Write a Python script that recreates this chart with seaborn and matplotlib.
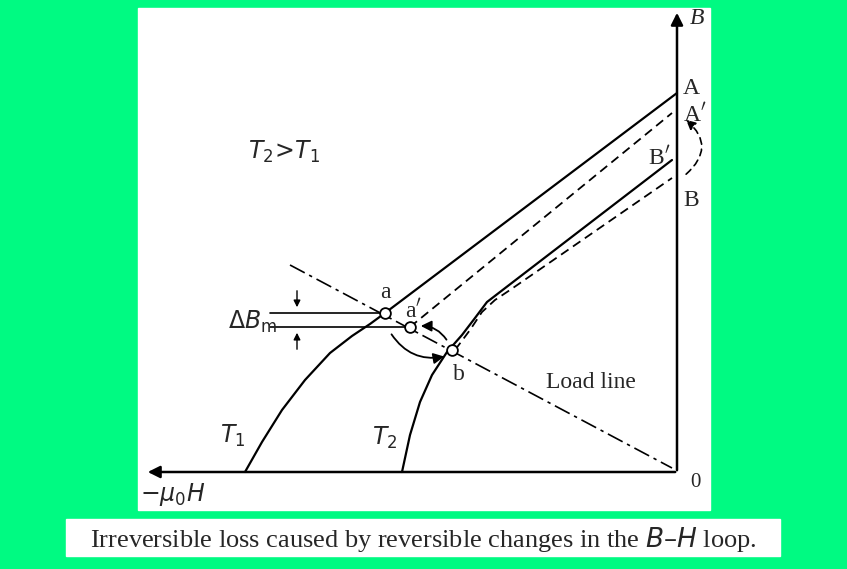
import numpy as np
import pandas as pd
import matplotlib
matplotlib.use("Agg")
import matplotlib.pyplot as plt
from matplotlib.patches import Rectangle, FancyArrowPatch
import seaborn as sns

sns.set_style("white")
plt.rcParams['font.family'] = ['Liberation Serif', 'DejaVu Serif']

# schematic curves, in picture coordinates (x right, y down)
t1_x = [245, 262, 282, 305, 330, 352, 370, 385, 677]
t1_y = [472, 442, 410, 380, 353, 336, 324, 313, 93]
t2_x = [402, 410, 420, 432, 447, 462, 475, 487, 500, 672]
t2_y = [472, 435, 402, 375, 352, 335, 318, 302, 292, 160]
da_x = [410, 672]
da_y = [327, 113]
db_x = [455, 470, 482, 495, 510, 672]
db_y = [350, 330, 312, 300, 290, 178]
load_x = [290, 672]
load_y = [265, 468]
pts_x = [385, 410, 452]
pts_y = [313, 327, 350]

green = '#00fa82'
fig = plt.figure(figsize=(8.47, 5.69), dpi=100, facecolor=green)
ax = fig.add_axes([0, 0, 1, 1])
ax.set_xlim(0, 847)
ax.set_ylim(569, 0)
ax.axis('off')
ax.add_patch(Rectangle((138, 8), 572, 502, color='white', zorder=0))
ax.add_patch(Rectangle((66, 519), 714, 37, color='white', zorder=0))

k = dict(color='black', lw=1.6, sort=False, legend=False, ax=ax)
sns.lineplot(x=t1_x, y=t1_y, **k)
sns.lineplot(x=t2_x, y=t2_y, **k)
sns.lineplot(x=da_x, y=da_y, linestyle=(0, (5, 3)), **{**k, 'lw': 1.3})
sns.lineplot(x=db_x, y=db_y, linestyle=(0, (5, 3)), **{**k, 'lw': 1.3})
sns.lineplot(x=load_x, y=load_y, linestyle=(0, (10, 3, 2, 3)), **{**k, 'lw': 1.2})
ax.scatter(pts_x, pts_y, s=60, facecolor='white', edgecolor='black', lw=1.3, zorder=5)

# axes of the diagram
ax.annotate('', xy=(677, 10), xytext=(677, 473),
            arrowprops=dict(arrowstyle='-|>', color='black', lw=1.8, mutation_scale=18))
ax.annotate('', xy=(145, 472), xytext=(678, 472),
            arrowprops=dict(arrowstyle='-|>', color='black', lw=1.8, mutation_scale=18))

# delta B_m marks
ax.plot([270, 385], [313, 313], color='black', lw=1.2)
ax.plot([270, 410], [327, 327], color='black', lw=1.2)
ax.annotate('', xy=(297, 310), xytext=(297, 288),
            arrowprops=dict(arrowstyle='-|>', color='black', lw=1, mutation_scale=10))
ax.annotate('', xy=(297, 330), xytext=(297, 352),
            arrowprops=dict(arrowstyle='-|>', color='black', lw=1, mutation_scale=10))

# curved arrows
ax.add_patch(FancyArrowPatch((390, 332), (447, 356), connectionstyle='arc3,rad=0.35',
                             arrowstyle='-|>', mutation_scale=16, color='black', lw=1.3))
ax.add_patch(FancyArrowPatch((448, 342), (418, 326), connectionstyle='arc3,rad=0.3',
                             arrowstyle='-|>', mutation_scale=16, color='black', lw=1.3))
ax.add_patch(FancyArrowPatch((684, 176), (684, 118), connectionstyle='arc3,rad=0.6',
                             arrowstyle='-|>', mutation_scale=14, color='black', lw=1.2,
                             linestyle=(0, (4, 3))))

fs = 17
ax.text(690, 18, 'B', fontsize=fs, style='italic', va='center')
ax.text(683, 88, 'A', fontsize=fs, va='center')
ax.text(683, 115, "A$'$", fontsize=fs, va='center')
ax.text(648, 158, "B$'$", fontsize=fs, va='center')
ax.text(683, 200, 'B', fontsize=fs, va='center')
ax.text(690, 482, '0', fontsize=15, va='center')
ax.text(248, 152, '$T_2\\!>\\!T_1$', fontsize=fs, va='center')
ax.text(380, 292, 'a', fontsize=fs, va='center')
ax.text(405, 311, "a$'$", fontsize=fs, va='center')
ax.text(453, 374, 'b', fontsize=fs, va='center')
ax.text(546, 382, 'Load line', fontsize=fs, va='center')
ax.text(220, 436, '$T_1$', fontsize=fs, va='center')
ax.text(372, 438, '$T_2$', fontsize=fs, va='center')
ax.text(228, 322, '$\\Delta B_{\\rm m}$', fontsize=fs, va='center')
ax.text(140, 494, '$-\\mu_0 H$', fontsize=fs, va='center')
ax.text(423, 539, 'Irreversible loss caused by reversible changes in the $B$\u2013$H$ loop.',
        fontsize=19, ha='center', va='center')

plt.rcParams['mathtext.fontset'] = 'stix'
fig.savefig('out.png', dpi=100, facecolor=green)
